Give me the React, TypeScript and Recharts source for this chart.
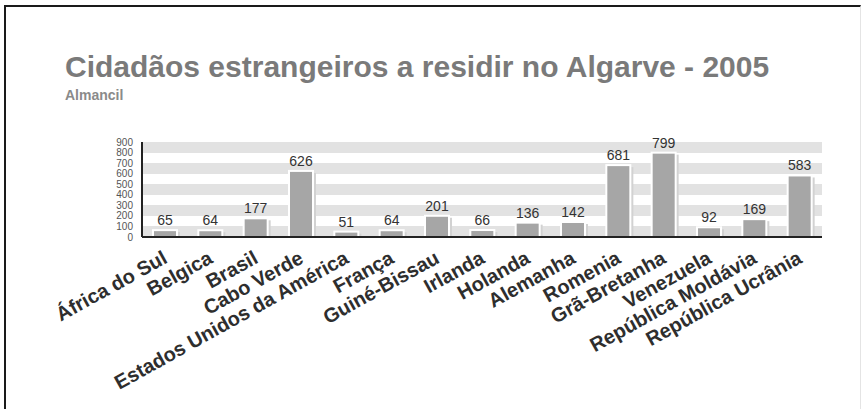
import { BarChart, Bar, XAxis, YAxis, CartesianGrid, LabelList } from "recharts";

const countries = [
  "África do Sul",
  "Belgica",
  "Brasil",
  "Cabo Verde",
  "Estados Unidos da América",
  "França",
  "Guiné-Bissau",
  "Irlanda",
  "Holanda",
  "Alemanha",
  "Romenia",
  "Grã-Bretanha",
  "Venezuela",
  "República Moldávia",
  "República Ucrânia",
];

const residents = [65, 64, 177, 626, 51, 64, 201, 66, 136, 142, 681, 799, 92, 169, 583];

const yTicks = [0, 100, 200, 300, 400, 500, 600, 700, 800, 900];

const chartData = countries.map((name, i) => ({ name, value: residents[i] }));

const font = "'Liberation Sans', Arial, sans-serif";

const CountryTick = (props: any) => {
  const { x, y, payload } = props;
  return (
    <g transform={`translate(${x + 4},${y + 17})`}>
      <text
        x={0}
        y={0}
        textAnchor="end"
        transform="rotate(-29)"
        fontFamily={font}
        fontWeight="bold"
        fontSize={20}
        fill="#2e2e2e"
      >
        {payload.value}
      </text>
    </g>
  );
};

// bar with a soft shadow on its right side, like the original
const ShadowBar = (props: any) => {
  const { x, y, width, height } = props;
  if (!height || height <= 0) return null;
  return (
    <g>
      <rect x={x + 3} y={y + 2} width={width} height={height - 2} fill="#d2d2d2" />
      <rect x={x} y={y} width={width} height={height} fill="#a6a6a6" stroke="#ffffff" strokeWidth={2} />
    </g>
  );
};

const App = () => {
  return (
    <div style={{ position: "absolute", left: 0, top: 0, width: 867, height: 409, background: "#fff", overflow: "hidden" }}>
      <div
        style={{
          position: "absolute",
          left: 4,
          top: 5,
          width: 854,
          height: 420,
          borderLeft: "2px solid #1a1a1a",
          borderTop: "2px solid #1a1a1a",
          borderRight: "1px solid #e4e4e4",
        }}
      />
      <div
        style={{
          position: "absolute",
          left: 65,
          top: 50,
          fontFamily: font,
          fontWeight: "bold",
          fontSize: 30,
          color: "#7a7a7a",
          whiteSpace: "nowrap",
          lineHeight: "34px",
        }}
      >
        Cidadãos estrangeiros a residir no Algarve - 2005
      </div>
      <div
        style={{
          position: "absolute",
          left: 65,
          top: 87,
          fontFamily: font,
          fontWeight: "bold",
          fontSize: 14,
          color: "#8a8a8a",
          lineHeight: "16px",
        }}
      >
        Almancil
      </div>
      <div style={{ position: "absolute", left: 0, top: 0 }}>
        <BarChart
          width={867}
          height={409}
          data={chartData}
          margin={{ top: 142, right: 45, bottom: 22, left: 102 }}
          barCategoryGap={0}
        >
          <CartesianGrid
            vertical={false}
            horizontal={true}
            stroke="none"
            horizontalFill={["#e2e2e2", "#ffffff"]}
            fillOpacity={1}
          />
          <XAxis
            dataKey="name"
            interval={0}
            height={150}
            tickLine={false}
            axisLine={{ stroke: "#222", strokeWidth: 2 }}
            tick={<CountryTick />}
          />
          <YAxis
            width={40}
            domain={[0, 900]}
            ticks={yTicks}
            interval={0}
            tickLine={false}
            tickMargin={3}
            axisLine={{ stroke: "#222", strokeWidth: 2 }}
            tick={{ fontFamily: font, fontSize: 10, fill: "#555" }}
          />
          <Bar dataKey="value" fill="#a6a6a6" barSize={24} shape={<ShadowBar />} isAnimationActive={false}>
            <LabelList dataKey="value" position="top" offset={5} style={{ fontFamily: font, fontSize: 14, fill: "#333" }} />
          </Bar>
        </BarChart>
      </div>
    </div>
  );
};

export default App;
